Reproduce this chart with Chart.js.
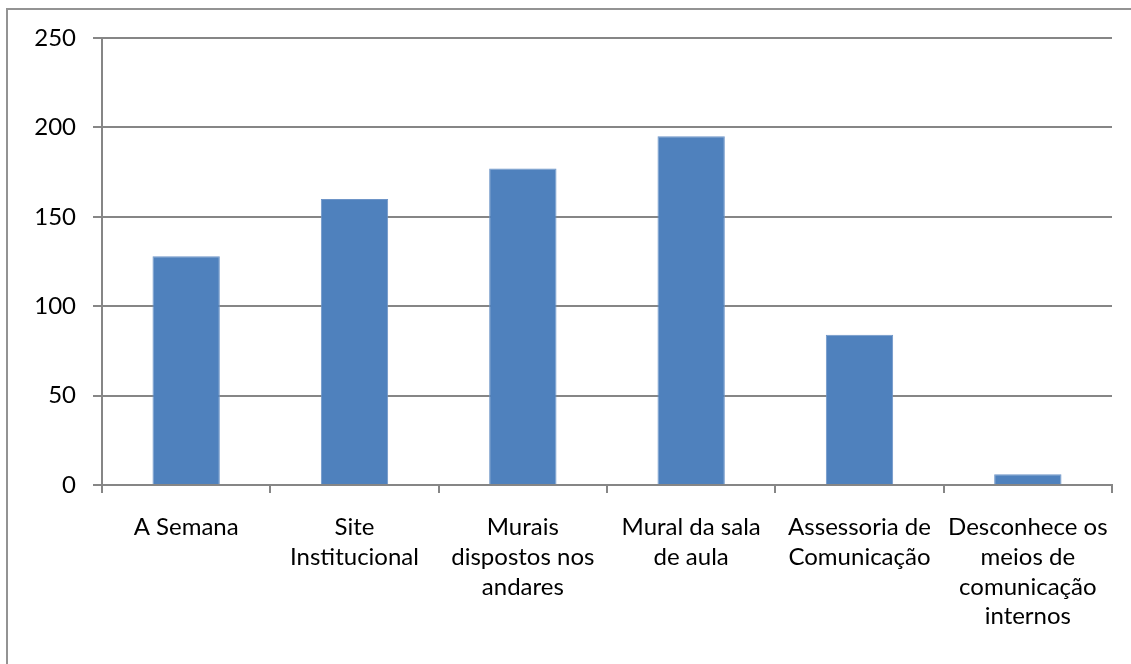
<!DOCTYPE html>
<html>
<head>
<meta charset="utf-8">
<script src="https://cdn.jsdelivr.net/npm/chart.js@4"></script>
<style>
  html, body { margin: 0; padding: 0; background: #fff; }
  #wrap { position: relative; width: 1131px; height: 664px; overflow: hidden; }
  #frame {
    position: absolute; left: 6px; top: 8px; width: 1200px; height: 700px;
    border-left: 2px solid #939393; border-top: 2px solid #939393;
  }
  canvas { position: absolute; left: 0; top: 0; }
</style>
</head>
<body>
<div id="wrap">
  <div id="frame"></div>
  <canvas id="visual" width="1131" height="664"></canvas>
</div>
<script>
// categories, one array of lines per label, as they wrap in the picture
const categories = [
  ['A Semana'],
  ['Site', 'Institucional'],
  ['Murais', 'dispostos nos', 'andares'],
  ['Mural da sala', 'de aula'],
  ['Assessoria de', 'Comunicação'],
  ['Desconhece os', 'meios de', 'comunicação', 'internos'],
];
const responses = [128, 160, 177, 195, 84, 6];
const yTicks = [0, 50, 100, 150, 200, 250];

const gridGrey = '#868686';
const font = {family: 'Lato', size: 24, lineHeight: 1.23};

const chart = new Chart('visual', {
  type: 'bar',
  data: {
    labels: categories,
    datasets: [{
      data: responses,
      backgroundColor: '#4f81bd',
      borderColor: '#6e95c8',
      borderWidth: 1,
      categoryPercentage: 1,
      barPercentage: 0.4,
    }],
  },
  options: {
    responsive: false,
    animation: false,
    layout: {padding: {top: 38, right: 19, left: 0, bottom: 0}},
    plugins: {legend: {display: false}, tooltip: {enabled: false}},
    scales: {
      x: {
        grid: {
          drawOnChartArea: false,
          color: gridGrey,
          tickLength: 8,
          lineWidth: 2,
        },
        border: {color: gridGrey, width: 2},
        ticks: {color: '#000', font: font, padding: 20, maxRotation: 0},
        afterFit: (scale) => {
          scale.height = 179;
        },
      },
      y: {
        min: 0,
        max: 250,
        afterBuildTicks: (scale) => {
          scale.ticks = yTicks.map((v) => ({value: v}));
        },
        grid: {color: gridGrey, tickLength: 9, lineWidth: 2},
        border: {color: gridGrey, width: 2},
        ticks: {color: '#000', font: {family: 'Lato', size: 24}, padding: 17},
        afterFit: (scale) => {
          scale.width = 102;
        },
      },
    },
  },
});
</script>
</body>
</html>
